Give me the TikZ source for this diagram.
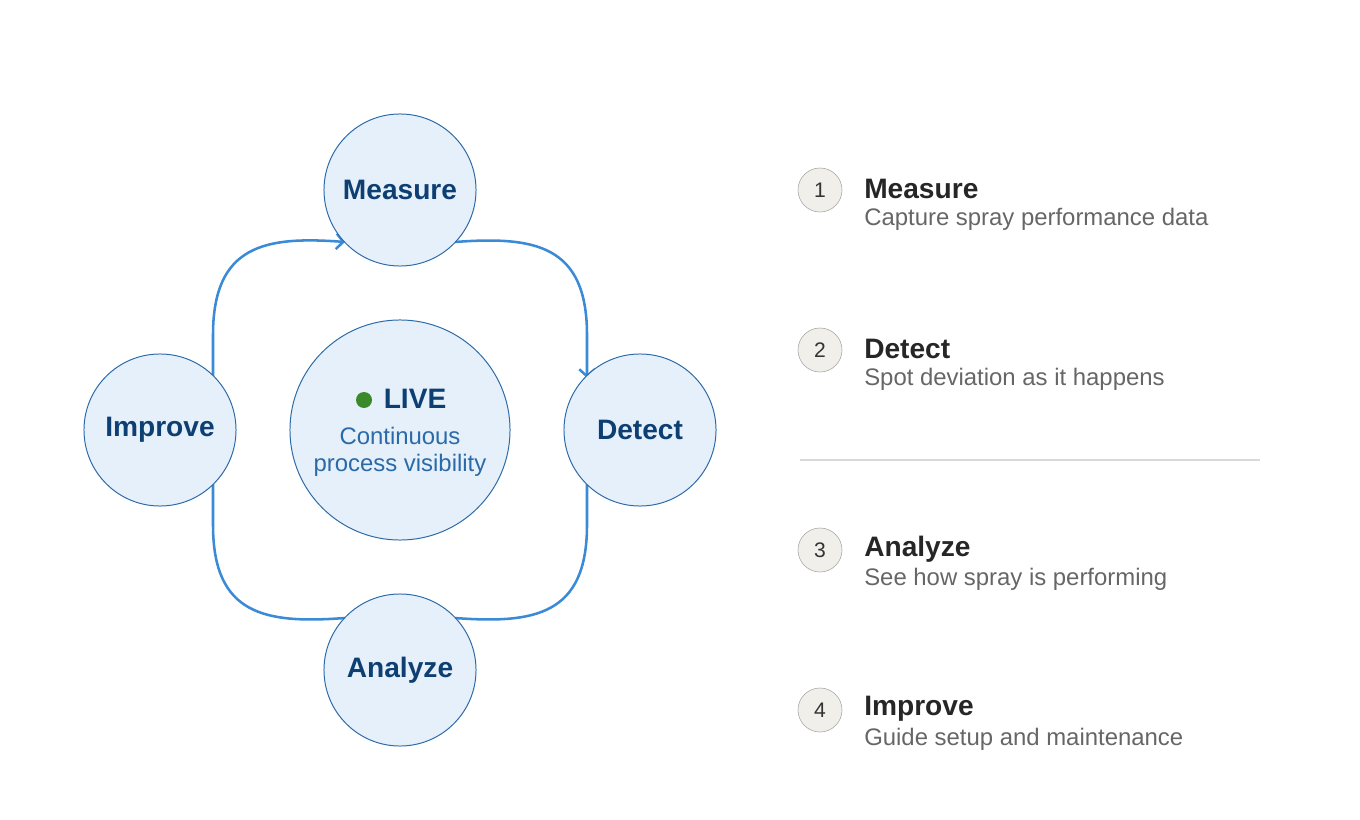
\documentclass[tikz,border=0pt]{standalone}
\usepackage{fontspec}
\setmainfont{Liberation Sans}
\usetikzlibrary{arrows.meta}
\definecolor{phasefill}{HTML}{E6F0FA}
\definecolor{phasedraw}{HTML}{2A6AA8}
\definecolor{phasetext}{HTML}{0D3F73}
\definecolor{flow}{HTML}{3A8AD6}
\definecolor{livegreen}{HTML}{3A8A2A}
\definecolor{numfill}{HTML}{F0EFEA}
\definecolor{subgray}{HTML}{666666}
\tikzset{%
  % Specifications for style of nodes:
         phase/.style = { circle, draw=phasedraw, line width=0.7pt, fill=phasefill, minimum size=3.8cm, inner sep=0pt, font=\fontsize{20}{24}\selectfont\bfseries, text=phasetext },
         hub/.style =   { phase, minimum size=5.5cm, font=\fontsize{17}{20}\selectfont\mdseries, align=center },
         num/.style =   { circle, draw=gray!70, fill=numfill, minimum size=1.1cm, inner sep=0pt, font=\fontsize{15}{17}\selectfont, text=black!80 },
         title/.style = { anchor=west, inner sep=0pt, font=\fontsize{20}{24}\selectfont\bfseries, text=black!85 },
         sub/.style =   { anchor=west, inner sep=0pt, font=\fontsize{17}{20}\selectfont, text=subgray },
         flowline/.style = { draw=flow, line width=1.8pt },
}
\begin{document}
\begin{tikzpicture}[x=0.025cm, y=-0.025cm]
    \useasboundingbox (0,0) rectangle (1360,820);
    % Draw cycle
    \draw[flowline, -{Straight Barb[length=5pt,width=11pt]}] (213,380) -- (213,335) .. controls (213,245) and (265,236) .. (345,242);
    \draw[flowline, -{Straight Barb[length=5pt,width=11pt]}] (455,242) .. controls (535,236) and (587,245) .. (587,335) -- (587,378);
    \draw[flowline] (587,480) -- (587,525) .. controls (587,615) and (535,624) .. (455,618);
    \draw[flowline] (345,618) .. controls (265,624) and (213,615) .. (213,525) -- (213,480);

    % Draw nodes
    \node (measure) [phase] at (400,190) {Measure};
    \node (detect)  [phase] at (640,430) {Detect};
    \node (analyze) [phase] at (400,670) {Analyze};
    \node (improve) [phase] at (160,430) {Improve};
    \node (live)    [hub]   at (400,430) {};
    \node (livetag) [font=\fontsize{20}{24}\selectfont\bfseries, text=phasetext] at (415,399) {LIVE};
    \fill[livegreen] (364,400) circle (8);
    \node (livesub) [align=center, font=\fontsize{17}{20}\selectfont, text=phasedraw] at (400,452) {Continuous\\[-1pt]process visibility};

    % Draw legend
    \foreach \i/\y/\t/\s in {1/190/Measure/Capture spray performance data,
                             2/350/Detect/Spot deviation as it happens,
                             3/550/Analyze/See how spray is performing,
                             4/710/Improve/Guide setup and maintenance} {
        \node (n\i) [num] at (820,\y) {\i};
        \node (t\i) [title] at (864,\y-1) {\t};
        \node (s\i) [sub] at (864,\y+29) {\s};
    }
    \draw[gray!30, line width=0.8pt] (800,460) -- (1260,460);
\end{tikzpicture}
\end{document}
